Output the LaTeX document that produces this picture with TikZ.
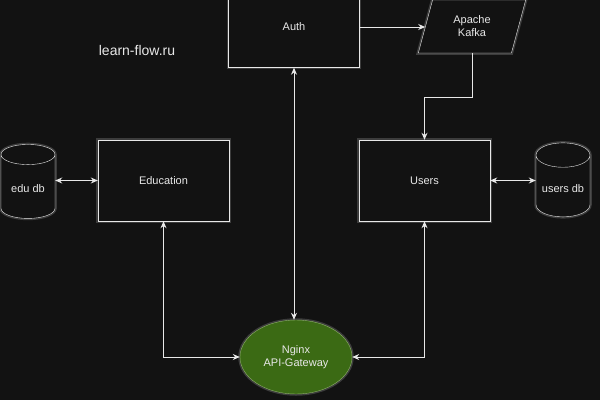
\documentclass[tikz,border=0pt]{standalone}
\usepackage{fontspec}
\setmainfont{Liberation Sans}
\usetikzlibrary{arrows.meta,positioning,shapes.geometric}
\definecolor{bgdark}{HTML}{121212}
\definecolor{linegray}{HTML}{E8E8E8}
\definecolor{nginxgreen}{HTML}{3B6A14}
\definecolor{nginxedge}{HTML}{8DB06A}

\begin{document}
\begin{tikzpicture}[x=1pt,y=-1pt,
  glow/.style={preaction={draw=white,opacity=.18,line width=3.5pt}},
  box/.style={draw=linegray,fill=bgdark,text=linegray,glow,minimum width=131pt,minimum height=81pt,font=\fontsize{11}{13}\selectfont},
  db/.style={cylinder,shape border rotate=90,aspect=.5,draw=linegray,fill=bgdark,text=linegray,glow,minimum width=54pt,minimum height=74pt,font=\fontsize{11}{13}\selectfont},
  queue/.style={trapezium,trapezium left angle=74,trapezium right angle=106,trapezium stretches=true,draw=linegray,fill=bgdark,text=linegray,glow,minimum width=108pt,minimum height=53pt,align=center,font=\fontsize{11}{13}\selectfont},
  gateway/.style={ellipse,draw=nginxedge,fill=nginxgreen,text=linegray,glow,minimum width=112pt,minimum height=74pt,align=center,inner sep=0pt,font=\fontsize{11}{13}\selectfont},
  flow/.style={-{Stealth[length=7pt,width=6pt]},draw=linegray,line width=1pt},
  both/.style={{Stealth[length=7pt,width=6pt]}-{Stealth[length=7pt,width=6pt]},draw=linegray,line width=1pt}
]
\fill[bgdark] (0,0) rectangle (600,400);
\useasboundingbox (0,0) rectangle (600,400);
\node[box] (auth) at (294,27) {Auth};
\node[queue] (kafka) at (472,26.5) {Apache\\Kafka};
\node[box] (edu) at (163.5,180.5) {Education};
\node[box] (users) at (424.5,180.5) {Users};
\node[db] (edudb) at (28,189) {edu db};
\node[db] (usersdb) at (563,189) {users db};
\node[gateway] (nginx) at (296,357) {Nginx\\API-Gateway};
\node[text=linegray,font=\fontsize{14}{16}\selectfont] (site) at (137,50) {learn-flow.ru};
\draw[flow] (auth.east) -- (auth.east -| kafka.west);
\draw[flow] (kafka.south) -- ++(0,44) -| (users.north);
\draw[both] (edudb.east |- edu.west) -- (edu.west);
\draw[both] (users.east) -- (users.east -| usersdb.west);
\draw[both] (auth.south) -- (auth.south |- nginx.north);
\draw[both] (edu.south) |- (nginx.west);
\draw[both] (users.south) |- (nginx.east);
\end{tikzpicture}
\end{document}
